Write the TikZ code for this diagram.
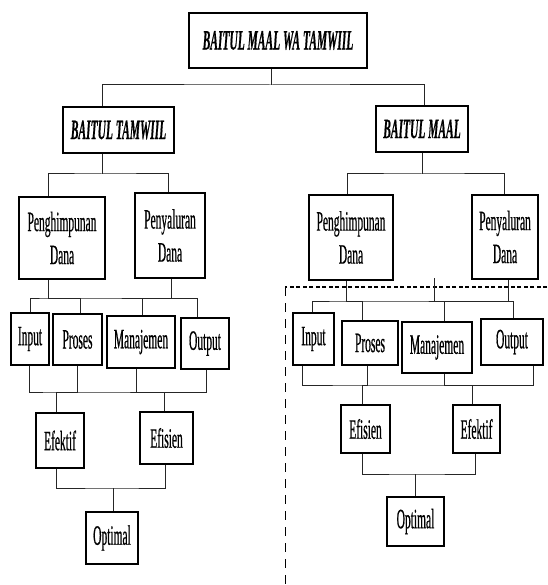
\documentclass[tikz,border=0pt]{standalone}
\usepackage{fontspec}
\setmainfont[FakeStretch=0.41, FakeBold=0.5]{Liberation Serif}

\tikzset{
  box/.style={draw, line width=1.3pt, inner sep=0pt, align=center,
    font=\fontsize{28}{33}\selectfont},
  head/.style={box, font=\fontsize{28}{33}\selectfont\bfseries\itshape},
  link/.style={line width=1pt, draw=black!85},
}

\begin{document}
\begin{tikzpicture}[x=1pt,y=1pt,yscale=-1,xscale=1]
\useasboundingbox (0,0) rectangle (547,585);

% Dashed frame (Baitul Maal part)
\draw [line width=1.6pt, dash pattern=on 4pt off 2.5pt] (547,287) -- (285,287) ;
\draw [line width=1pt, dash pattern=on 9pt off 7pt] (285,287) -- (285,585) ;

% Heads
\node [head, minimum width=178pt, minimum height=55pt] (top) at (278,40.5) {BAITUL MAAL WA TAMWIIL};
\node [head, minimum width=111pt, minimum height=46pt] (tamwil) at (118.5,130) {BAITUL TAMWIIL};
\node [head, minimum width=92pt, minimum height=46pt] (maal) at (422,129) {BAITUL MAAL};

% Baitul Tamwiil side
\node [box, minimum width=86pt, minimum height=82pt] (phL) at (62,238) {Penghimpunan\\Dana};
\node [box, minimum width=70pt, minimum height=85pt] (pyL) at (170,235.5) {Penyaluran\\Dana};
\node [box, minimum width=38pt, minimum height=52pt] (inL) at (30,339) {Input};
\node [box, minimum width=49pt, minimum height=51pt] (prL) at (77.5,339.5) {Proses};
\node [box, minimum width=68pt, minimum height=52pt] (mjL) at (141,342) {Manajemen};
\node [box, minimum width=48pt, minimum height=51pt] (ouL) at (205,343.5) {Output};
\node [box, minimum width=48pt, minimum height=55pt] (efkL) at (60,440.5) {Efektif};
\node [box, minimum width=53pt, minimum height=52pt] (efsL) at (166.5,438) {Efisien};
\node [box, minimum width=52pt, minimum height=52pt] (opL) at (112,538) {Optimal};

% Baitul Maal side
\node [box, minimum width=84pt, minimum height=85pt] (phR) at (351,237.5) {Penghimpunan\\Dana};
\node [box, minimum width=66pt, minimum height=84pt] (pyR) at (505,237) {Penyaluran\\Dana};
\node [box, minimum width=41pt, minimum height=52pt] (inR) at (313.5,339) {Input};
\node [box, minimum width=56pt, minimum height=44pt] (prR) at (370,343) {Proses};
\node [box, minimum width=70pt, minimum height=51pt] (mjR) at (437,347.5) {Manajemen};
\node [box, minimum width=62pt, minimum height=46pt] (ouR) at (512,342) {Output};
\node [box, minimum width=49pt, minimum height=48pt] (efsR) at (365.5,429) {Efisien};
\node [box, minimum width=47pt, minimum height=48pt] (efkR) at (476.5,429) {Efektif};
\node [box, minimum width=57pt, minimum height=49pt] (opR) at (415.5,521.5) {Optimal};

% Junctions
\coordinate (j1) at (271,85);
\coordinate (j2L) at (102,174);
\coordinate (j2R) at (422,174);
\coordinate (j3a) at (48,298);
\coordinate (j3b) at (171,298);
\coordinate (j3c) at (346,301);
\coordinate (j3d) at (508,301);
\coordinate (stub) at (434,278);
\coordinate (j4a) at (56,392);
\coordinate (j4b) at (164,392);
\coordinate (j4c) at (362,385);
\coordinate (j4d) at (472,385);
\coordinate (j5L) at (113,488);
\coordinate (j5R) at (415,474);

% Level 1
\draw [link] (top.south -| j1) -- (j1) ;
\draw [link] (tamwil.north -| 102,0) |- (j1) -| (maal.north -| 424,0) ;

% Level 2
\draw [link] (tamwil.south -| j2L) -- (j2L) ;
\draw [link] (phL.north -| 48,0) |- (j2L) -| (pyL.north -| 168,0) ;
\draw [link] (maal.south -| j2R) -- (j2R) ;
\draw [link] (phR.north -| 347,0) |- (j2R) -| (pyR.north -| 504,0) ;

% Level 3, left
\draw [link] (phL.south -| j3a) -- (j3a) ;
\draw [link] (pyL.south -| j3b) -- (j3b) ;
\draw [link] (inL.north -| 30,0) |- (j3a) -| (ouL.north -| 197,0) ;
\draw [link] (prL.north -| 80,0) |- (j3a) ;
\draw [link] (mjL.north -| 142,0) |- (j3b) ;

% Level 3, right
\draw [link] (phR.south -| j3c) -- (j3c) ;
\draw [link] (pyR.south -| j3d) -- (j3d) ;
\draw [link] (stub) -- (stub |- j3c) ;
\draw [link] (inR.north -| 312,0) |- (j3c) -| (ouR.north -| 513,0) ;
\draw [link] (prR.north -| 362,0) |- (j3c) ;
\draw [link] (mjR.north -| 444,0) |- (j3d) ;

% Level 4, left
\draw [link] (inL.south -| 29,0) |- (j4a) -| (ouL.south -| 206,0) ;
\draw [link] (prL.south -| 77,0) |- (j4a) ;
\draw [link] (mjL.south -| 136,0) |- (j4b) ;
\draw [link] (efkL.north -| j4a) -- (j4a) ;
\draw [link] (efsL.north -| j4b) -- (j4b) ;

% Level 4, right
\draw [link] (inR.south -| 302,0) |- (j4c) -| (ouR.south -| 533,0) ;
\draw [link] (prR.south -| 367,0) |- (j4c) ;
\draw [link] (mjR.south -| 444,0) |- (j4d) ;
\draw [link] (efsR.north -| j4c) -- (j4c) ;
\draw [link] (efkR.north -| j4d) -- (j4d) ;

% Level 5
\draw [link] (efkL.south -| 56,0) |- (j5L) -| (efsL.south -| 165,0) ;
\draw [link] (opL.north -| j5L) -- (j5L) ;
\draw [link] (efsR.south -| 362,0) |- (j5R) -| (efkR.south -| 475,0) ;
\draw [link] (opR.north -| j5R) -- (j5R) ;

\end{tikzpicture}
\end{document}
